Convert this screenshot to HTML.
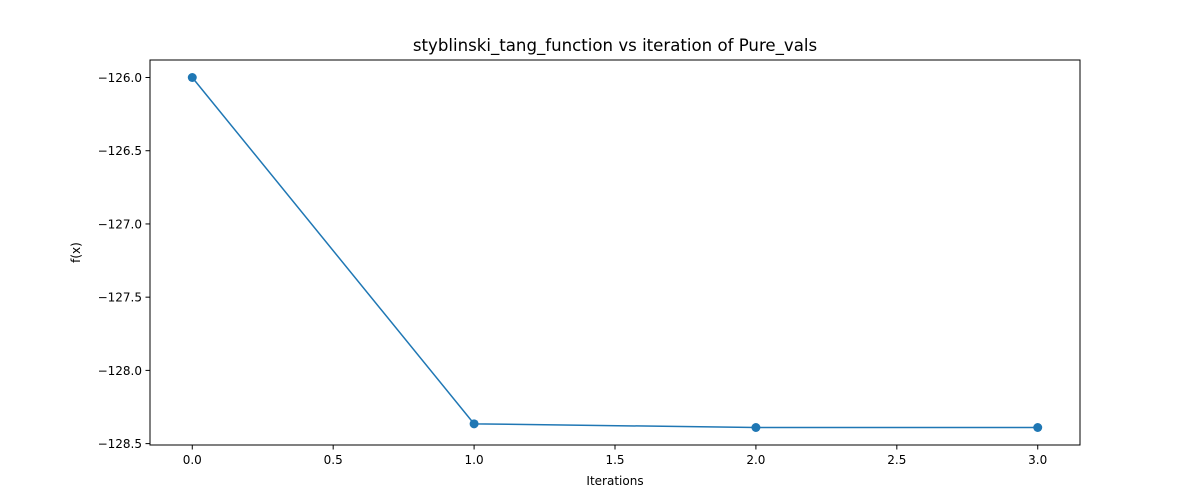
<!DOCTYPE html>
<html><head><meta charset="utf-8"><style>
body{margin:0;background:#fff;}
svg{display:block;font-family:"DejaVu Sans","Liberation Sans",sans-serif;}
</style></head><body>
<svg id="c" width="1200" height="500"></svg>
<script>
const iterations=[0,1,2,3];
const fvals=[-126.0,-128.365,-128.39,-128.39];
const xTicks=[0,0.5,1,1.5,2,2.5,3];
const yTicks=[-126.0,-126.5,-127.0,-127.5,-128.0,-128.5];
const L=150,R=1080,T=60,B=445;
const xmin=-0.15,xmax=3.15;
const dmin=Math.min(...fvals),dmax=Math.max(...fvals),pad=(dmax-dmin)*0.05;
const ymin=dmin-pad,ymax=dmax+pad;
const X=v=>L+(v-xmin)/(xmax-xmin)*(R-L);
const Y=v=>B-(v-ymin)/(ymax-ymin)*(B-T);
const svg=document.getElementById('c');const NS='http://www.w3.org/2000/svg';
function mk(t,a,p){const e=document.createElementNS(NS,t);for(const k in a)e.setAttribute(k,a[k]);(p||svg).appendChild(e);return e;}
const frame=mk('rect',{x:L,y:T,width:R-L,height:B-T,fill:'none',stroke:'#000','stroke-width':1});


xTicks.forEach(v=>{const x=X(v);
mk('line',{x1:x,x2:x,y1:B,y2:B+4.5,stroke:'#000'});
const t=mk('text',{x:x,y:B+19,'font-size':12,'text-anchor':'middle'});t.textContent=v.toFixed(1);

});
yTicks.forEach(v=>{const y=Y(v);
mk('line',{x1:L-4.5,x2:L,y1:y,y2:y,stroke:'#000'});
const t=mk('text',{x:L-8,y:y+4.5,'font-size':12,'text-anchor':'end'});t.textContent=v.toFixed(1).replace('-','\u2212');

});
const line=mk('polyline',{points:iterations.map((v,i)=>X(v)+','+Y(fvals[i])).join(' '),fill:'none',stroke:'#1f77b4','stroke-width':1.5});


iterations.forEach((v,i)=>{const c=mk('circle',{cx:X(v),cy:Y(fvals[i]),r:4.5,fill:'#1f77b4'});

});
const ti=mk('text',{x:615,y:T-9,'font-size':16.6,'text-anchor':'middle'});ti.textContent='styblinski_tang_function vs iteration of Pure_vals';


const xl=mk('text',{x:(L+R)/2,y:485,'font-size':12,'text-anchor':'middle'});xl.textContent='Iterations';


const yl=mk('text',{x:80,y:(T+B)/2,'font-size':12,'text-anchor':'middle',transform:'rotate(-90 80 '+(T+B)/2+')'});yl.textContent='f(x)';


</script>
</body></html>
